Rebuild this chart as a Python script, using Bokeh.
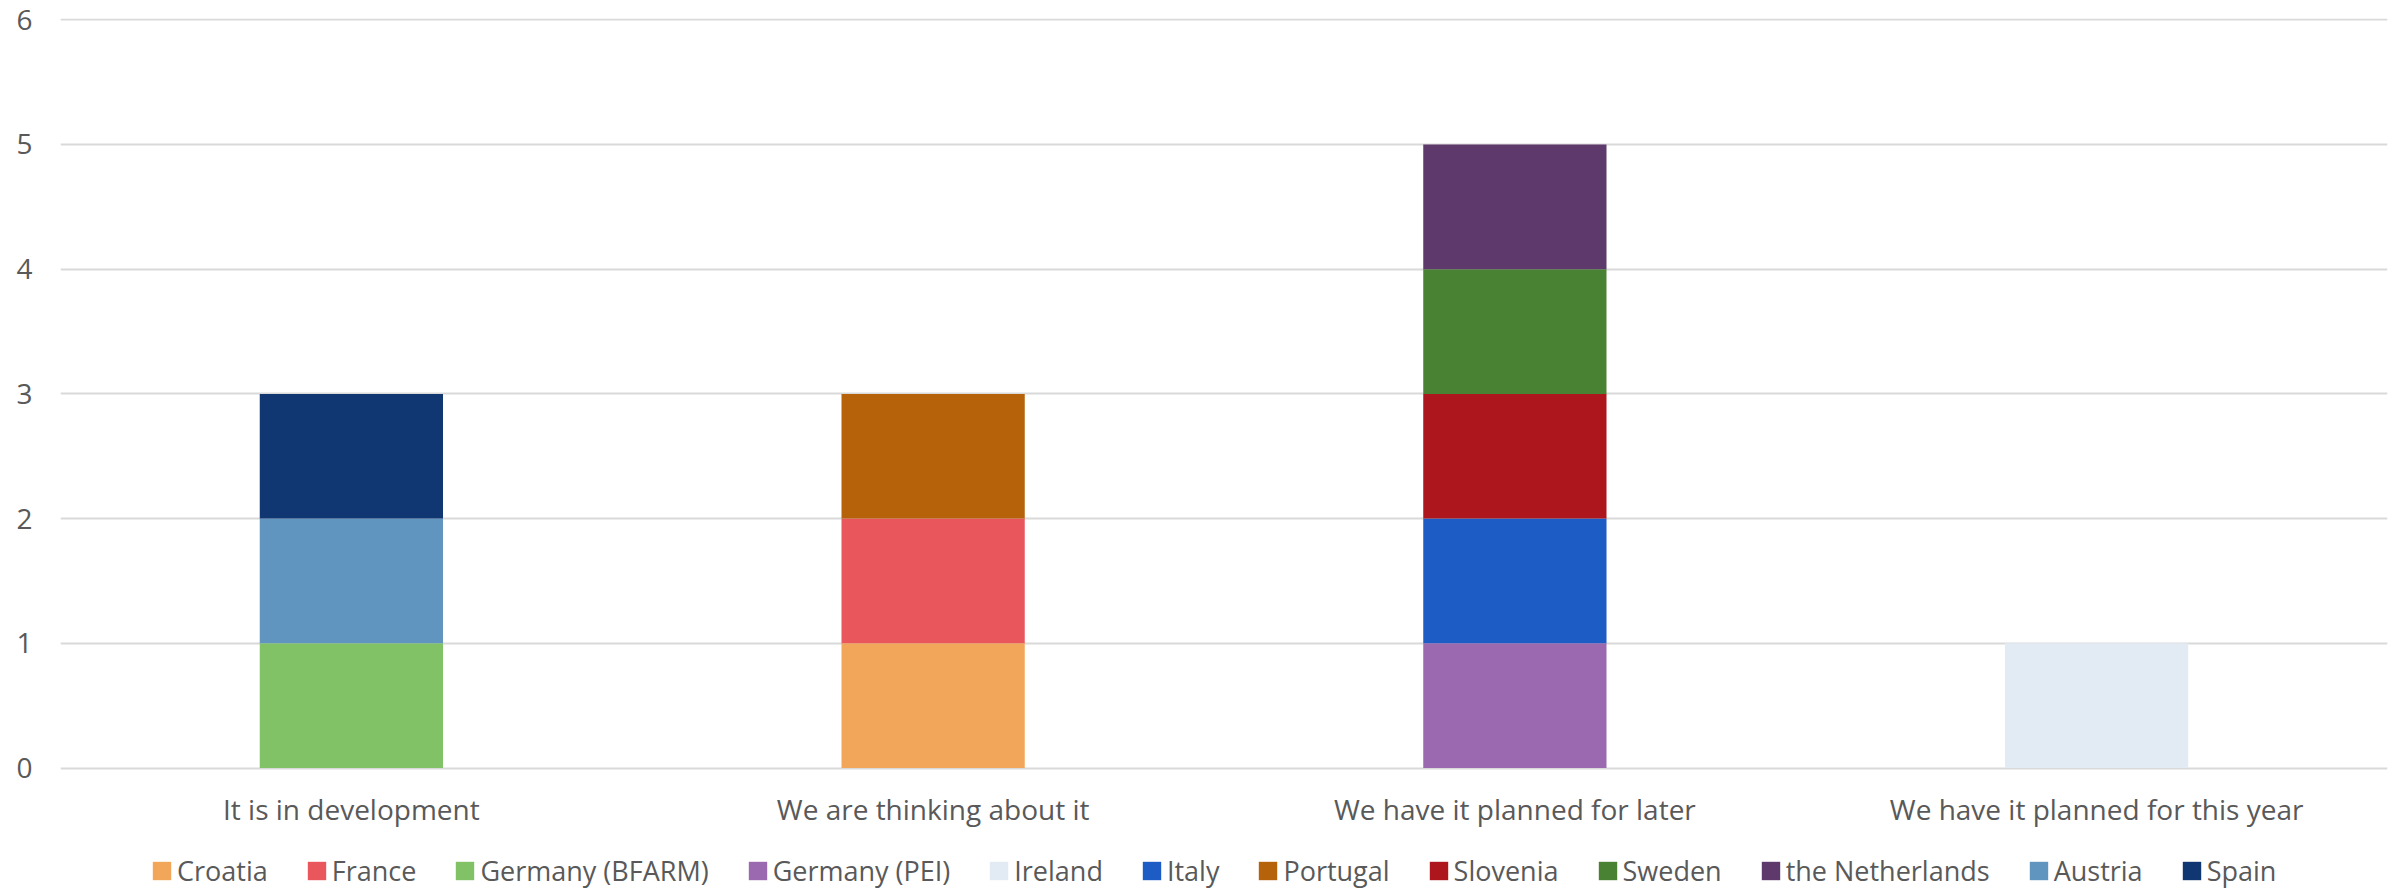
from bokeh.plotting import figure
from bokeh.models import ColumnDataSource, FactorRange, Range1d, Legend, LegendItem, FixedTicker
from bokeh.core.properties import value
from bokeh.embed import file_html
from bokeh.resources import INLINE

categories = ["It is in development", "We are thinking about it",
              "We have it planned for later", "We have it planned for this year"]

croatia = [0, 1, 0, 0]
france = [0, 1, 0, 0]
germany_bfarm = [1, 0, 0, 0]
germany_pei = [0, 0, 1, 0]
ireland = [0, 0, 0, 1]
italy = [0, 0, 1, 0]
portugal = [0, 1, 0, 0]
slovenia = [0, 0, 1, 0]
sweden = [0, 0, 1, 0]
netherlands = [0, 0, 1, 0]
austria = [1, 0, 0, 0]
spain = [1, 0, 0, 0]

y_ticks = [0, 1, 2, 3, 4, 5, 6]

series_names = ["Croatia", "France", "Germany (BFARM)", "Germany (PEI)", "Ireland", "Italy",
                "Portugal", "Slovenia", "Sweden", "the Netherlands", "Austria", "Spain"]
series_values = [croatia, france, germany_bfarm, germany_pei, ireland, italy,
                 portugal, slovenia, sweden, netherlands, austria, spain]
colors = ["#F2A65A", "#E9575C", "#82C266", "#9B69AF", "#E2EAF3", "#1C5CC4",
          "#B5620B", "#AC161C", "#4A8233", "#5E396B", "#6095C0", "#113773"]

keys = ["s%d" % i for i in range(len(series_names))]
data = {"cats": categories, "base": [0] * len(categories)}
for k, v in zip(keys, series_values):
    data[k] = v
source = ColumnDataSource(data)

FONT = "Open Sans"
TXT = "#595959"

p = figure(x_range=FactorRange(*categories), y_range=Range1d(-0.966, 6.01),
           width=2397, height=888, output_backend="svg", toolbar_location=None,
           x_axis_location=None,
           min_border_left=60, min_border_right=10, min_border_top=18, min_border_bottom=0)

renderers = p.vbar_stack(keys, x="cats", width=0.315, color=colors, line_color=None, source=source)

# category labels under the zero line
p.text(x="cats", y="base", text="cats", source=source, text_align="center",
       text_baseline="middle", y_offset=41, text_font=value(FONT),
       text_font_size="28px", text_color=TXT)

p.outline_line_color = None
p.xgrid.grid_line_color = None
p.ygrid.grid_line_color = "#D9D9D9"
p.ygrid.grid_line_width = 2

p.yaxis.ticker = FixedTicker(ticks=y_ticks)
p.yaxis.axis_line_color = None
p.yaxis.major_tick_line_color = None
p.yaxis.minor_tick_line_color = None
p.yaxis.major_tick_out = 0
p.yaxis.major_label_standoff = 28
p.yaxis.major_label_text_font = FONT
p.yaxis.major_label_text_font_size = "28px"
p.yaxis.major_label_text_color = TXT

legend = Legend(items=[LegendItem(label=n, renderers=[r]) for n, r in zip(series_names, renderers)],
                location=(90, -1), orientation="horizontal",
                glyph_width=23, glyph_height=23, label_standoff=4, spacing=37,
                padding=0, margin=0, border_line_color=None, background_fill_alpha=0,
                label_text_font=FONT, label_text_font_size="27px", label_text_color=TXT)
p.add_layout(legend)

open("out.html", "w").write(file_html(p, INLINE))
